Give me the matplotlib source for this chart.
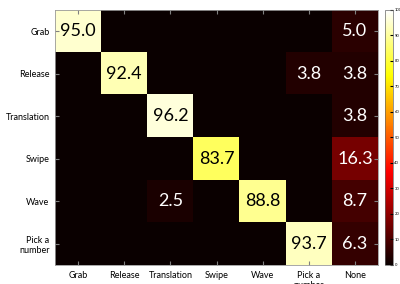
import numpy as np
import matplotlib
matplotlib.use("Agg")
import matplotlib.pyplot as plt

labels = ["Grab", "Release", "Translation", "Swipe", "Wave", "Pick a\nnumber", "None"]
row_labels = ["Grab", "Release", "Translation", "Swipe", "Wave", "Pick a\nnumber"]

# confusion values (%) per row, columns follow `labels`
grab = [95.0, 0, 0, 0, 0, 0, 5.0]
release = [0, 92.4, 0, 0, 0, 3.8, 3.8]
translation = [0, 0, 96.2, 0, 0, 0, 3.8]
swipe = [0, 0, 0, 83.7, 0, 0, 16.3]
wave = [0, 0, 2.5, 0, 88.8, 0, 8.7]
pick = [0, 0, 0, 0, 0, 93.7, 6.3]

cm = np.array([grab, release, translation, swipe, wave, pick])

plt.rcParams['font.family'] = ['Lato', 'DejaVu Sans']

fig = plt.figure(figsize=(4.0, 2.84), dpi=100)
ax = fig.add_axes([0.1375, 0.067, 0.8075, 0.898])
cax = fig.add_axes([0.9625, 0.067, 0.02, 0.898])

im = ax.imshow(cm, cmap='hot', vmin=0, vmax=100, aspect='auto',
               interpolation='nearest')

for i in range(cm.shape[0]):
    for j in range(cm.shape[1]):
        v = cm[i, j]
        if v == 0:
            continue
        c = 'black' if v > 50 else 'white'
        ax.text(j, i, f"{v:.1f}", ha='center', va='center', color=c,
                fontsize=13)

ax.set_xticks(range(len(labels)))
ax.set_xticklabels(labels, fontsize=6.5)
ax.set_yticks(range(len(row_labels)))
ax.set_yticklabels(row_labels, fontsize=6.5)
ax.tick_params(direction='in', length=3, color='0.5', pad=4,
               top=True, right=True)
for s in ax.spines.values():
    s.set_linewidth(0.6)
    s.set_edgecolor('0.6')

cb = fig.colorbar(im, cax=cax, ticks=np.arange(0, 101, 10))
cb.ax.tick_params(labelsize=3, length=2, direction='in', pad=1)
cb.outline.set_linewidth(0.5)
cb.outline.set_edgecolor('0.4')

fig.savefig("out.png", dpi=100)
